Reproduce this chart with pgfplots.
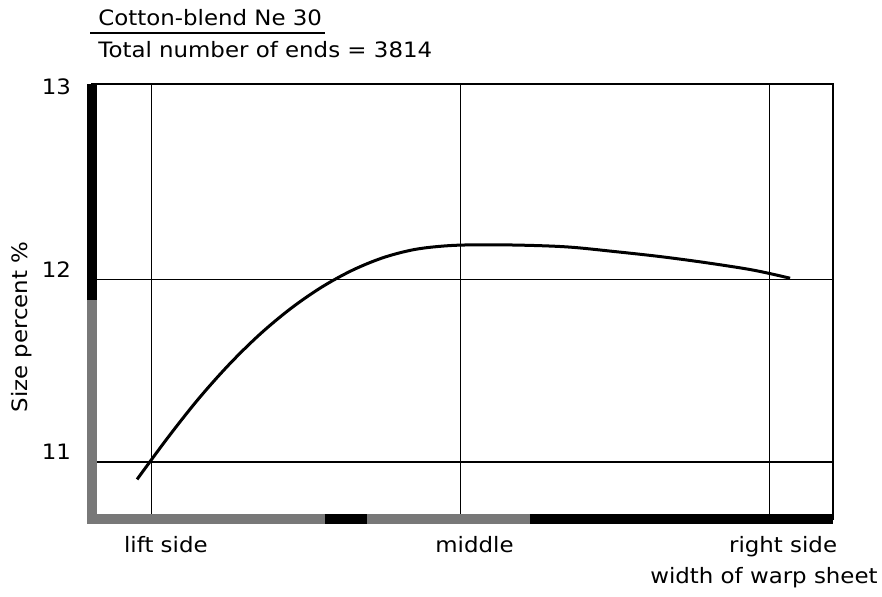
\documentclass[border=0pt]{standalone}
\usepackage{pgfplots}
\pgfplotsset{compat=1.18}
\usepackage{fontspec}
\setmainfont{DejaVu Sans}[FakeStretch=1.08]
\definecolor{scangray}{HTML}{787878}
\newcommand\chartfont{\fontsize{10.6}{12.5}\selectfont}
\begin{document}
\begin{tikzpicture}[x=1pt,y=1pt]
\useasboundingbox (-46,-38.5) rectangle (395,259.5);
\begin{axis}[
  scale only axis,
  width=370.5pt, height=217.5pt,
  xmin=-0.194, xmax=2.207,
  ymin=10.688, ymax=13.071,
  xtick={0,1,2},
  xticklabels={lift side, middle, right side},
  ytick={11,12},
  extra y ticks={13},
  extra y tick style={grid=none},
  grid=major,
  major grid style={black, line width=0.6pt},
  major tick length=0pt,
  axis line style={black, line width=0.9pt},
  clip=false,
  font=\chartfont,
  /pgf/number format/assume math mode=true,
  yticklabel style={xshift=-7pt, yshift=5pt},
  xticklabel style={xshift=7pt, yshift=-5pt},
]
\addplot[black, line width=1.5pt, smooth, tension=0.55] coordinates {
 (-0.048,10.905) (0.05,11.130) (0.15,11.344) (0.25,11.534) (0.35,11.700)
 (0.45,11.841) (0.55,11.958) (0.65,12.051) (0.75,12.120) (0.85,12.164)
 (0.95,12.184) (1.05,12.190) (1.20,12.188) (1.35,12.178) (1.50,12.153)
 (1.65,12.125) (1.80,12.091) (1.95,12.051) (2.068,12.007)
};
\draw[black, line width=5pt] (rel axis cs:0,1) -- (rel axis cs:0,0.492);
\draw[scangray, line width=5pt, line cap=rect] (rel axis cs:0,0.492) -- (rel axis cs:0,0) -- (rel axis cs:0.314,0);
\draw[black, line width=5pt] (rel axis cs:0.314,0) -- (rel axis cs:0.371,0);
\draw[scangray, line width=5pt] (rel axis cs:0.371,0) -- (rel axis cs:0.591,0);
\draw[black, line width=5pt] (rel axis cs:0.591,0) -- (rel axis cs:1,0);
\end{axis}
\node[anchor=west, inner sep=0pt, font=\chartfont] at (3,250.5) {Cotton-blend Ne 30};
\draw[black, line width=0.7pt] (-1,243) -- (116.5,243);
\node[anchor=west, inner sep=0pt, font=\chartfont] at (3,234.5) {Total number of ends = 3814};
\node[rotate=90, inner sep=0pt, font=\chartfont] at (-35,96) {Size percent \%};
\node[anchor=east, inner sep=0pt, font=\chartfont] at (393,-29.5) {width of warp sheet};
\end{tikzpicture}
\end{document}
